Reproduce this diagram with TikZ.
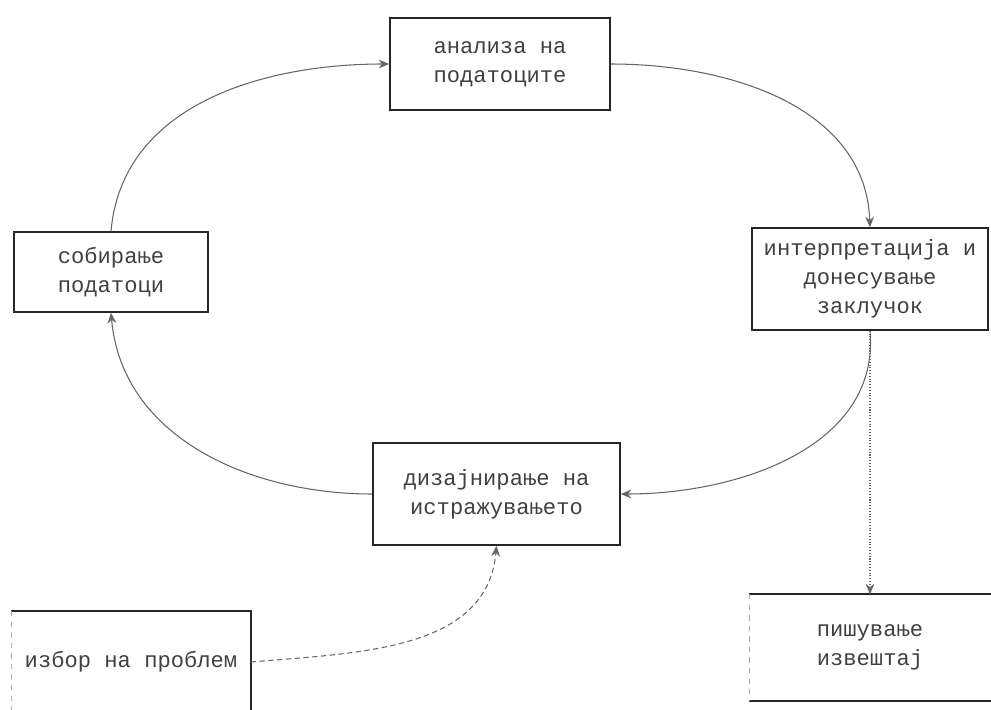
\documentclass[tikz,border=0pt]{standalone}
\usepackage{fontspec}
\setmainfont{Liberation Mono}
\usetikzlibrary{arrows.meta}
\begin{document}
\begin{tikzpicture}[x=0.02cm,y=-0.02cm,
  box/.style={draw=black!85, line width=0.9pt, align=center, inner sep=0pt,
    font=\fontsize{12.6}{16.5}\selectfont, text=black!75},
  conn/.style={draw=black!60, line width=0.6pt, -{Stealth[length=6pt,width=5pt]}}]
\clip (0,0) rectangle (991,710);
\fill[white] (0,0) rectangle (991,710);
\node[box, minimum width=4.4cm, minimum height=1.84cm] (an) at (500,64) {анализа на\\податоците};
\node[box, minimum width=3.88cm, minimum height=1.6cm] (sob) at (111,272) {собирање\\податоци};
\node[box, minimum width=4.72cm, minimum height=2.04cm] (int) at (870,279) {интерпретација и\\донесување\\заклучок};
\node[box, minimum width=4.94cm, minimum height=2.04cm] (diz) at (496.5,494) {дизајнирање на\\истражувањето};
\node[box, draw=none, minimum width=4.76cm, minimum height=2cm] (izb) at (131,662) {избор на проблем};
\draw[black!85, line width=0.9pt] (izb.north west) -- (izb.north east) -- (izb.south east);
\draw[black!30, line width=0.5pt, dashed] (izb.north west) -- (izb.south west);
\node[box, draw=none, minimum width=4.8cm, minimum height=2.1cm] (pis) at (870,647.5) {пишување\\извештај};
\draw[black!85, line width=0.9pt] (pis.north west) -- (pis.north east);
\draw[black!85, line width=0.9pt] (pis.south west) -- (pis.south east);
\draw[black!35, line width=0.5pt, dashed] (pis.north west) -- (pis.south west);
\draw[conn] (sob.north) to[out=85,in=180] (an.west);
\draw[conn] (an.east) to[out=0,in=92] (int.north);
\draw[conn] (int.south) to[out=-85,in=0] (diz.east);
\draw[conn] (diz.west) to[out=180,in=-85] (sob.south);
\draw[conn, densely dashed] (izb.east) to[out=5,in=-95] (diz.south);
\draw[conn, densely dotted] (int.south) -- (pis.north);
\end{tikzpicture}
\end{document}
